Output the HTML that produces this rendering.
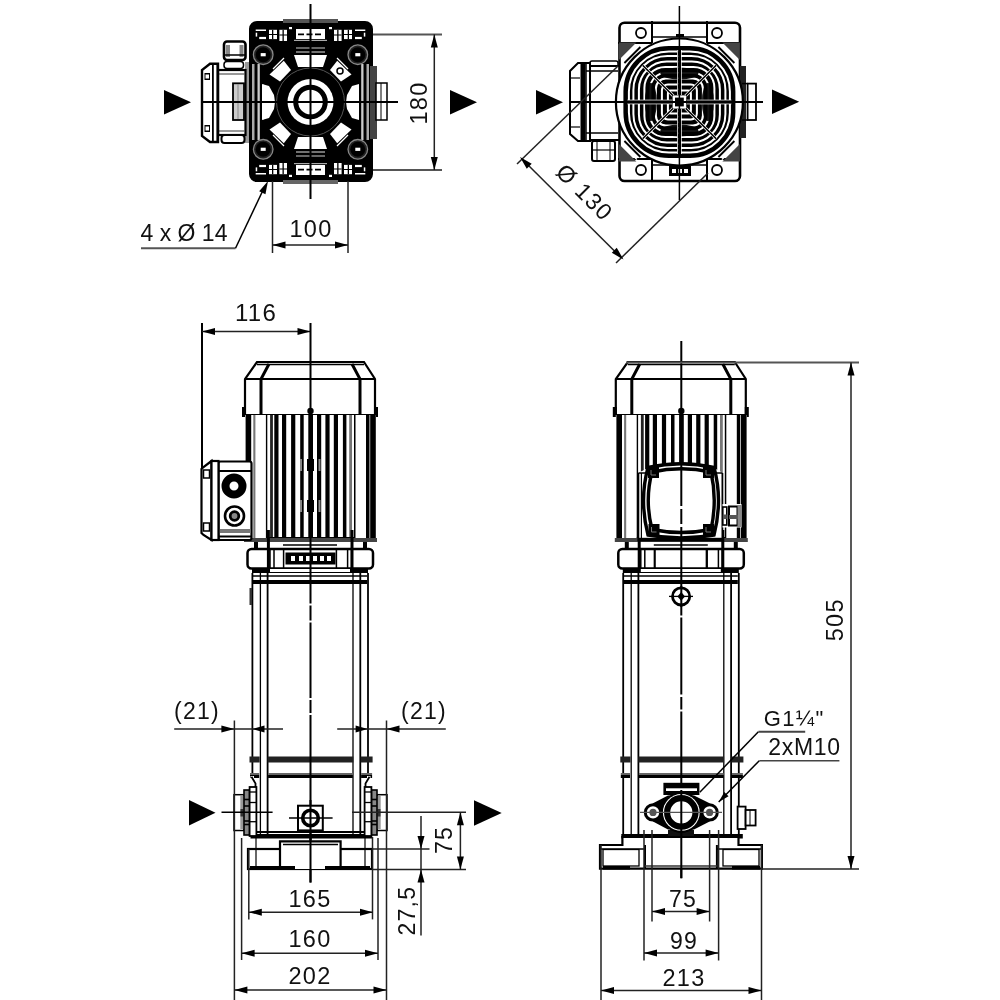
<!DOCTYPE html>
<html><head><meta charset="utf-8"><style>
html,body{margin:0;padding:0;background:#fff;width:1000px;height:1000px;overflow:hidden}
svg{display:block;will-change:transform}
text{font-family:"Liberation Sans",sans-serif;fill:#111;letter-spacing:1.3px}
</style></head><body>
<svg width="1000" height="1000" viewBox="0 0 1000 1000">
<rect width="1000" height="1000" fill="#fff"/>
<rect x="245" y="62" width="7" height="81" fill="#999"/>
<rect x="224" y="41.5" width="21.5" height="18.5" rx="3" fill="#fff" stroke="#000" stroke-width="2.6" />
<rect x="226" y="45" width="4" height="12" fill="#888"/>
<rect x="239.5" y="45" width="4" height="12" fill="#888"/>
<line x1="224" y1="55" x2="245.5" y2="55" stroke="#000" stroke-width="1.5" />
<rect x="224" y="61.5" width="19.5" height="7" rx="3" fill="#fff" stroke="#000" stroke-width="1.5" />
<rect x="218" y="70" width="27.5" height="65" rx="0" fill="#fff" stroke="#000" stroke-width="2.2" />
<line x1="218" y1="74" x2="245" y2="74" stroke="#555" stroke-width="1.2" />
<line x1="218" y1="131" x2="245" y2="131" stroke="#555" stroke-width="1.2" />
<rect x="233" y="83.3" width="11" height="36.7" fill="#ccc"/>
<rect x="233" y="83.3" width="11" height="36.7" rx="0" fill="none" stroke="#000" stroke-width="1.8" />
<line x1="238" y1="84" x2="238" y2="119" stroke="#888" stroke-width="1" />
<rect x="221.5" y="135" width="23" height="8" rx="3" fill="#fff" stroke="#000" stroke-width="2" />
<path d="M218,63.8 L210,63.8 L202,70 L202,136 L210,142 L218,142 Z" fill="#fff" stroke="#000" stroke-width="2.4" />
<rect x="212" y="63.8" width="1.8" height="78.2" fill="#000"/>
<rect x="216.5" y="63.8" width="2" height="78.2" fill="#000"/>
<rect x="204.5" y="73" width="5.5" height="7" fill="#000"/>
<rect x="205.5" y="74.5" width="3.5" height="4" fill="#fff"/>
<rect x="204.5" y="125" width="5.5" height="7" fill="#000"/>
<rect x="205.5" y="126.5" width="3.5" height="4" fill="#fff"/>
<rect x="250" y="22" width="122" height="159" rx="7" fill="#000" stroke="#000" stroke-width="2" />
<rect x="283" y="19" width="55" height="4" fill="#555"/>
<rect x="283" y="180" width="55" height="4" fill="#666"/>
<rect x="370" y="66" width="7" height="73" fill="#444"/>
<rect x="376" y="83" width="11" height="37" rx="0" fill="#fff" stroke="#000" stroke-width="1.5" />
<line x1="381" y1="83" x2="381" y2="120" stroke="#000" stroke-width="1" />
<rect x="252" y="64" width="2.5" height="76" fill="#aaa"/>
<rect x="366.5" y="64" width="2.5" height="76" fill="#aaa"/>
<rect x="257.5" y="64" width="2.3" height="76" fill="#ccc"/>
<rect x="361.2" y="64" width="2.3" height="76" fill="#ccc"/>
<polygon points="294,55 327,55 323,67 298,67" fill="#fff" stroke="none" stroke-width="1"/>
<polygon points="269.5,74.5 283.8,60.8 291,70 280,81.5" fill="#fff" stroke="none" stroke-width="1"/>
<polygon points="351.5,74.5 337.2,60.8 330,70 341,81.5" fill="#fff" stroke="none" stroke-width="1"/>
<rect x="255.7" y="29.5" width="10.3" height="1.5" fill="#fff"/>
<rect x="355" y="29.5" width="10.3" height="1.5" fill="#fff"/>
<rect x="255.7" y="32.7" width="1.5" height="3.9" fill="#fff"/>
<rect x="363.8" y="32.7" width="1.5" height="3.9" fill="#fff"/>
<rect x="259.2" y="36.9" width="6.8" height="2.2" fill="#fff"/>
<rect x="355" y="36.9" width="6.8" height="2.2" fill="#fff"/>
<rect x="269" y="29.8" width="8" height="9.3" fill="#fff"/>
<rect x="344" y="29.8" width="8" height="9.3" fill="#fff"/>
<rect x="272" y="29.8" width="1.3" height="9.3" fill="#000"/>
<rect x="347.7" y="29.8" width="1.3" height="9.3" fill="#000"/>
<rect x="269" y="34" width="8" height="1" fill="#000"/>
<rect x="344" y="34" width="8" height="1" fill="#000"/>
<rect x="279.4" y="29.8" width="7.6" height="11.2" fill="#fff"/>
<rect x="334" y="29.8" width="7.6" height="11.2" fill="#fff"/>
<rect x="282.5" y="29.8" width="1.3" height="11.2" fill="#000"/>
<rect x="337.2" y="29.8" width="1.3" height="11.2" fill="#000"/>
<rect x="279.4" y="34.5" width="7.6" height="1" fill="#000"/>
<rect x="334" y="34.5" width="7.6" height="1" fill="#000"/>
<rect x="289" y="27" width="3" height="2.2" fill="#fff"/>
<rect x="329" y="27" width="3" height="2.2" fill="#fff"/>
<rect x="296" y="29" width="29" height="10" fill="#fff"/>
<line x1="298" y1="34.3" x2="323" y2="34.3" stroke="#000" stroke-width="1.8" stroke-dasharray="6,2.5"/>
<rect x="294" y="39.8" width="33" height="1.2" fill="#aaa"/>
<line x1="296" y1="48" x2="325" y2="48" stroke="#888" stroke-width="1.5" />
<line x1="296" y1="52" x2="325" y2="52" stroke="#999" stroke-width="1.5" />
<circle cx="263.2" cy="54.7" r="9.8" fill="#222" stroke="#888" stroke-width="1.3"/>
<circle cx="263.2" cy="54.7" r="7.5" fill="#000" stroke="none" stroke-width="0"/>
<rect x="260.7" y="53.1" width="5" height="3.2" fill="#fff"/>
<circle cx="357.8" cy="54.7" r="9.8" fill="#222" stroke="#888" stroke-width="1.3"/>
<circle cx="357.8" cy="54.7" r="7.5" fill="#000" stroke="none" stroke-width="0"/>
<rect x="355.3" y="53.1" width="5" height="3.2" fill="#fff"/>
<line x1="273" y1="69" x2="284" y2="58" stroke="#fff" stroke-width="1.2" />
<line x1="348" y1="69" x2="337" y2="58" stroke="#fff" stroke-width="1.2" />
<line x1="283" y1="83.5" x2="293" y2="74.5" stroke="#777" stroke-width="1.2" />
<line x1="338" y1="83.5" x2="328" y2="74.5" stroke="#777" stroke-width="1.2" />
<polygon points="294,149 327,149 323,137 298,137" fill="#fff" stroke="none" stroke-width="1"/>
<polygon points="269.5,129.5 283.8,143.2 291,134 280,122.5" fill="#fff" stroke="none" stroke-width="1"/>
<polygon points="351.5,129.5 337.2,143.2 330,134 341,122.5" fill="#fff" stroke="none" stroke-width="1"/>
<rect x="255.7" y="173" width="10.3" height="1.5" fill="#fff"/>
<rect x="355" y="173" width="10.3" height="1.5" fill="#fff"/>
<rect x="255.7" y="167.4" width="1.5" height="3.9" fill="#fff"/>
<rect x="363.8" y="167.4" width="1.5" height="3.9" fill="#fff"/>
<rect x="259.2" y="164.9" width="6.8" height="2.2" fill="#fff"/>
<rect x="355" y="164.9" width="6.8" height="2.2" fill="#fff"/>
<rect x="269" y="164.9" width="8" height="9.3" fill="#fff"/>
<rect x="344" y="164.9" width="8" height="9.3" fill="#fff"/>
<rect x="272" y="164.9" width="1.3" height="9.3" fill="#000"/>
<rect x="347.7" y="164.9" width="1.3" height="9.3" fill="#000"/>
<rect x="269" y="169" width="8" height="1" fill="#000"/>
<rect x="344" y="169" width="8" height="1" fill="#000"/>
<rect x="279.4" y="163" width="7.6" height="11.2" fill="#fff"/>
<rect x="334" y="163" width="7.6" height="11.2" fill="#fff"/>
<rect x="282.5" y="163" width="1.3" height="11.2" fill="#000"/>
<rect x="337.2" y="163" width="1.3" height="11.2" fill="#000"/>
<rect x="279.4" y="168.5" width="7.6" height="1" fill="#000"/>
<rect x="334" y="168.5" width="7.6" height="1" fill="#000"/>
<rect x="289" y="174.8" width="3" height="2.2" fill="#fff"/>
<rect x="329" y="174.8" width="3" height="2.2" fill="#fff"/>
<rect x="296" y="165" width="29" height="10" fill="#fff"/>
<line x1="298" y1="169.7" x2="323" y2="169.7" stroke="#000" stroke-width="1.8" stroke-dasharray="6,2.5"/>
<rect x="294" y="163" width="33" height="1.2" fill="#aaa"/>
<line x1="296" y1="156" x2="325" y2="156" stroke="#888" stroke-width="1.5" />
<line x1="296" y1="152" x2="325" y2="152" stroke="#999" stroke-width="1.5" />
<circle cx="263.2" cy="149.3" r="9.8" fill="#222" stroke="#888" stroke-width="1.3"/>
<circle cx="263.2" cy="149.3" r="7.5" fill="#000" stroke="none" stroke-width="0"/>
<rect x="260.7" y="147.7" width="5" height="3.2" fill="#fff"/>
<circle cx="357.8" cy="149.3" r="9.8" fill="#222" stroke="#888" stroke-width="1.3"/>
<circle cx="357.8" cy="149.3" r="7.5" fill="#000" stroke="none" stroke-width="0"/>
<rect x="355.3" y="147.7" width="5" height="3.2" fill="#fff"/>
<line x1="273" y1="135" x2="284" y2="146" stroke="#fff" stroke-width="1.2" />
<line x1="348" y1="135" x2="337" y2="146" stroke="#fff" stroke-width="1.2" />
<line x1="283" y1="120.5" x2="293" y2="129.5" stroke="#777" stroke-width="1.2" />
<line x1="338" y1="120.5" x2="328" y2="129.5" stroke="#777" stroke-width="1.2" />
<path d="M263,84 Q276,102 263,120 Z" fill="#fff" stroke="none" stroke-width="0" />
<polygon points="262,84 269,86 274,95 275,102 274,109 269,118 262,120" fill="#fff" stroke="none" stroke-width="1"/>
<polygon points="359,84 352,86 347,95 346,102 347,109 352,118 359,120" fill="#fff" stroke="none" stroke-width="1"/>
<circle cx="340" cy="71" r="3" fill="none" stroke="#000" stroke-width="1.5"/>
<circle cx="310.5" cy="102" r="34" fill="#000" stroke="#555" stroke-width="1"/>
<circle cx="310.5" cy="102" r="23" fill="#fff" stroke="none" stroke-width="0"/>
<circle cx="310.5" cy="102" r="14.8" fill="none" stroke="#000" stroke-width="5"/>
<line x1="310.5" y1="4" x2="310.5" y2="199" stroke="#000" stroke-width="2" />
<line x1="201.5" y1="102" x2="398" y2="102" stroke="#000" stroke-width="2" />
<polygon points="164,90 191,102.25 164,114.5" fill="#000" stroke="none" stroke-width="1"/>
<polygon points="450,90 477,102.25 450,114.5" fill="#000" stroke="none" stroke-width="1"/>
<line x1="373" y1="34.4" x2="442" y2="34.4" stroke="#555" stroke-width="2" />
<line x1="373" y1="170" x2="442" y2="170" stroke="#555" stroke-width="2" />
<line x1="434.3" y1="34.4" x2="434.3" y2="170" stroke="#222" stroke-width="1.5" />
<polygon points="434.3,34.4 437.8,47.4 430.8,47.4" fill="#000" stroke="none" stroke-width="1"/>
<polygon points="434.3,170 430.8,157 437.8,157" fill="#000" stroke="none" stroke-width="1"/>
<text x="427" y="103" font-size="23.5" text-anchor="middle" transform="rotate(-90 427 103)" >180</text>
<line x1="272.5" y1="181" x2="272.5" y2="253" stroke="#222" stroke-width="1.5" />
<line x1="348" y1="181" x2="348" y2="253" stroke="#222" stroke-width="1.5" />
<line x1="272.5" y1="245" x2="348" y2="245" stroke="#222" stroke-width="1.5" />
<polygon points="272.5,245 285.5,241.5 285.5,248.5" fill="#000" stroke="none" stroke-width="1"/>
<polygon points="348,245 335,248.5 335,241.5" fill="#000" stroke="none" stroke-width="1"/>
<text x="311" y="236.5" font-size="23.5" text-anchor="middle" >100</text>
<line x1="141" y1="248.3" x2="235.5" y2="248.3" stroke="#555" stroke-width="2" />
<line x1="235.5" y1="248.3" x2="265" y2="186" stroke="#000" stroke-width="1.5" />
<polygon points="268,181 265.45,194.22 259.16,191.15" fill="#000" stroke="none" stroke-width="1"/>
<text x="140.5" y="241" font-size="23" text-anchor="start" style="letter-spacing:0px">4 x Ø 14</text>
<rect x="590" y="40" width="0" height="0" rx="0" fill="none" stroke="#000" stroke-width="0" />
<rect x="592" y="141" width="23" height="20" rx="2" fill="#fff" stroke="#000" stroke-width="2" />
<line x1="597" y1="141" x2="597" y2="161" stroke="#000" stroke-width="1" />
<line x1="610" y1="141" x2="610" y2="161" stroke="#000" stroke-width="1" />
<line x1="592" y1="150" x2="615" y2="150" stroke="#000" stroke-width="1.2" />
<rect x="590" y="61" width="28" height="8" rx="2" fill="#fff" stroke="#000" stroke-width="1.5" />
<rect x="586" y="66" width="34" height="74" rx="0" fill="#fff" stroke="#000" stroke-width="2" />
<path d="M590,63 L578,63 L570,71 L570,134 L578,141 L590,141 Z" fill="#fff" stroke="#000" stroke-width="2" />
<rect x="580.5" y="62" width="5" height="80" fill="#000"/>
<line x1="586" y1="62" x2="586" y2="142" stroke="#000" stroke-width="1.5" />
<line x1="571" y1="78" x2="580" y2="78" stroke="#000" stroke-width="1.2" />
<line x1="571" y1="127" x2="580" y2="127" stroke="#000" stroke-width="1.2" />
<line x1="586" y1="133" x2="618" y2="133" stroke="#000" stroke-width="1.5" />
<line x1="586" y1="71" x2="618" y2="71" stroke="#000" stroke-width="1.5" />
<rect x="619.5" y="22.8" width="120.5" height="158.2" rx="5" fill="#fff" stroke="#000" stroke-width="2.6" />
<line x1="618" y1="43" x2="652" y2="43" stroke="#000" stroke-width="2" />
<line x1="618" y1="159" x2="652" y2="159" stroke="#000" stroke-width="2" />
<line x1="707" y1="43" x2="740" y2="43" stroke="#000" stroke-width="2" />
<line x1="707" y1="159" x2="740" y2="159" stroke="#000" stroke-width="2" />
<line x1="652" y1="21" x2="652" y2="43" stroke="#000" stroke-width="2" />
<line x1="707" y1="21" x2="707" y2="43" stroke="#000" stroke-width="2" />
<line x1="652" y1="159" x2="652" y2="181" stroke="#000" stroke-width="2" />
<line x1="707" y1="159" x2="707" y2="181" stroke="#000" stroke-width="2" />
<line x1="652" y1="37" x2="707" y2="37" stroke="#000" stroke-width="1.5" />
<line x1="652" y1="165" x2="707" y2="165" stroke="#000" stroke-width="1.5" />
<circle cx="641" cy="33" r="5" fill="#fff" stroke="#000" stroke-width="1.8"/>
<circle cx="717" cy="33" r="5" fill="#fff" stroke="#000" stroke-width="1.8"/>
<circle cx="641" cy="170" r="5" fill="#fff" stroke="#000" stroke-width="1.8"/>
<circle cx="717" cy="170" r="5" fill="#fff" stroke="#000" stroke-width="1.8"/>
<rect x="669" y="166" width="22" height="10" fill="#000"/>
<rect x="672" y="169" width="4" height="4" fill="#fff"/>
<rect x="678" y="169" width="4" height="4" fill="#fff"/>
<rect x="684" y="169" width="4" height="4" fill="#fff"/>
<rect x="676" y="34" width="8" height="3" fill="#000"/>
<rect x="740" y="66" width="6" height="72" fill="#222"/>
<rect x="747.6" y="83.6" width="8.4" height="36.4" rx="0" fill="#fff" stroke="#000" stroke-width="1.8" />
<line x1="742" y1="83.6" x2="747.6" y2="83.6" stroke="#000" stroke-width="1.5" />
<line x1="742" y1="120" x2="747.6" y2="120" stroke="#000" stroke-width="1.5" />
<circle cx="679.4" cy="102" r="63.5" fill="#fff" stroke="#000" stroke-width="2.2"/>
<polygon points="739.9,161.5 722.4,161.5 739.9,144" fill="#444" stroke="none" stroke-width="1"/>
<line x1="736.9" y1="144.5" x2="721.9" y2="159.5" stroke="#fff" stroke-width="1.3" />
<line x1="734.4" y1="141" x2="718.4" y2="157" stroke="#000" stroke-width="1.8" />
<polygon points="739.9,42.5 722.4,42.5 739.9,60" fill="#444" stroke="none" stroke-width="1"/>
<line x1="736.9" y1="59.5" x2="721.9" y2="44.5" stroke="#fff" stroke-width="1.3" />
<line x1="734.4" y1="63" x2="718.4" y2="47" stroke="#000" stroke-width="1.8" />
<polygon points="618.9,161.5 636.4,161.5 618.9,144" fill="#444" stroke="none" stroke-width="1"/>
<line x1="621.9" y1="144.5" x2="636.9" y2="159.5" stroke="#fff" stroke-width="1.3" />
<line x1="624.4" y1="141" x2="640.4" y2="157" stroke="#000" stroke-width="1.8" />
<polygon points="618.9,42.5 636.4,42.5 618.9,60" fill="#444" stroke="none" stroke-width="1"/>
<line x1="621.9" y1="59.5" x2="636.9" y2="44.5" stroke="#fff" stroke-width="1.3" />
<line x1="624.4" y1="63" x2="640.4" y2="47" stroke="#000" stroke-width="1.8" />
<g transform="translate(679.4,102)">
<rect x="-54.5" y="-54.5" width="109" height="109" rx="44" fill="#000"/>
<rect x="-6" y="-6" width="12" height="12" rx="1" fill="none" stroke="#fff" stroke-width="2.0"/>
<rect x="-11.5" y="-11.5" width="23.0" height="23.0" rx="3" fill="none" stroke="#fff" stroke-width="2.0"/>
<rect x="-17.5" y="-17.5" width="35.0" height="35.0" rx="6" fill="none" stroke="#fff" stroke-width="2.0"/>
<rect x="-23.5" y="-23.5" width="47.0" height="47.0" rx="10" fill="none" stroke="#fff" stroke-width="2.0"/>
<rect x="-29" y="-29" width="58" height="58" rx="15" fill="none" stroke="#fff" stroke-width="2.0"/>
<rect x="-35" y="-35" width="70" height="70" rx="21" fill="none" stroke="#fff" stroke-width="2.0"/>
<rect x="-40.5" y="-40.5" width="81.0" height="81.0" rx="28" fill="none" stroke="#fff" stroke-width="2.0"/>
<rect x="-46" y="-46" width="92" height="92" rx="34" fill="none" stroke="#fff" stroke-width="2.0"/>
<rect x="-50.5" y="-50.5" width="101.0" height="101.0" rx="40" fill="none" stroke="#fff" stroke-width="2.0"/>
<g transform="rotate(0)"><ellipse cx="0" cy="-28.5" rx="19" ry="6" fill="#000" opacity="0.92"/></g>
<g transform="rotate(90)"><ellipse cx="0" cy="-28.5" rx="19" ry="6" fill="#000" opacity="0.92"/></g>
<g transform="rotate(180)"><ellipse cx="0" cy="-28.5" rx="19" ry="6" fill="#000" opacity="0.92"/></g>
<g transform="rotate(270)"><ellipse cx="0" cy="-28.5" rx="19" ry="6" fill="#000" opacity="0.92"/></g>
<g transform="rotate(0)"><rect x="-52" y="-2.3" width="104" height="4.6" fill="#fff"/><rect x="-55" y="-1.6" width="110" height="3.2" fill="#000"/><line x1="-52" y1="0" x2="52" y2="0" stroke="#fff" stroke-width="1.2" stroke-dasharray="1.5,4"/></g>
<g transform="rotate(90)"><rect x="-52" y="-2.3" width="104" height="4.6" fill="#fff"/><rect x="-55" y="-1.6" width="110" height="3.2" fill="#000"/><line x1="-52" y1="0" x2="52" y2="0" stroke="#fff" stroke-width="1.2" stroke-dasharray="1.5,4"/></g>
<g transform="rotate(45)"><rect x="-52" y="-1.5" width="104" height="3" fill="#fff"/><rect x="-52" y="-0.8" width="104" height="1.6" fill="#000"/></g>
<g transform="rotate(135)"><rect x="-52" y="-1.5" width="104" height="3" fill="#fff"/><rect x="-52" y="-0.8" width="104" height="1.6" fill="#000"/></g>
<rect x="-54.5" y="-54.5" width="109" height="109" rx="44" fill="none" stroke="#000" stroke-width="3"/>
<rect x="-7" y="-7" width="14" height="14" fill="#000"/><rect x="-5.5" y="-5.5" width="11" height="11" fill="none" stroke="#fff" stroke-width="2.2"/><rect x="-2.5" y="-2.5" width="5" height="5" fill="#000"/>
</g>
<line x1="679.4" y1="6" x2="679.4" y2="200" stroke="#000" stroke-width="1.5" />
<line x1="570" y1="102" x2="763" y2="102" stroke="#000" stroke-width="2" />
<polygon points="536,90 563,102.25 536,114.5" fill="#000" stroke="none" stroke-width="1"/>
<polygon points="772,89.6 799.2,101.8 772,114" fill="#000" stroke="none" stroke-width="1"/>
<line x1="517" y1="164" x2="618" y2="66" stroke="#222" stroke-width="1.5" />
<line x1="616" y1="263" x2="708" y2="173" stroke="#222" stroke-width="1.5" />
<line x1="523" y1="160" x2="621" y2="257.5" stroke="#222" stroke-width="1.5" />
<polygon points="520,157 531.68,163.69 526.75,168.65" fill="#000" stroke="none" stroke-width="1"/>
<polygon points="623.5,259.5 611.82,252.81 616.75,247.85" fill="#000" stroke="none" stroke-width="1"/>
<text x="579" y="198" font-size="23" text-anchor="middle" transform="rotate(44.85 579 198)" >Ø 130</text>
<g transform="translate(0,0)">
<path d="M257,362 L364,362 L375,379 L375,415 L245,415 L245,379 Z" fill="#fff" stroke="#000" stroke-width="2.2" />
<line x1="257" y1="364.5" x2="364" y2="364.5" stroke="#000" stroke-width="1.5" />
<line x1="245" y1="379" x2="375" y2="379" stroke="#000" stroke-width="2.2" />
<path d="M269,364 L261,379 L261,415" fill="none" stroke="#000" stroke-width="3" />
<path d="M352,364 L360,379 L360,415" fill="none" stroke="#000" stroke-width="3" />
<rect x="242" y="407" width="4" height="10" fill="#000"/>
<rect x="374" y="407" width="4" height="10" fill="#000"/>
<circle cx="310.5" cy="411" r="3.2" fill="#000" stroke="none" stroke-width="0"/>
<line x1="244" y1="415.5" x2="376" y2="415.5" stroke="#000" stroke-width="2.5" />
<rect x="245" y="415" width="131" height="125" rx="0" fill="#fff" stroke="none" stroke-width="0" />
<rect x="245.6" y="415" width="5.6" height="125" fill="#000"/>
<rect x="253.3" y="415" width="2.1" height="125" fill="#777"/>
<rect x="265.9" y="415" width="1.4" height="125" fill="#000"/>
<rect x="270.1" y="415" width="2.8" height="125" fill="#222"/>
<rect x="274.3" y="415" width="4.2" height="125" fill="#000"/>
<rect x="282" y="415" width="4.2" height="125" fill="#000"/>
<rect x="291.1" y="415" width="4.2" height="125" fill="#000"/>
<rect x="300.2" y="415" width="3.5" height="125" fill="#000"/>
<rect x="308.3" y="415" width="4.7" height="125" fill="#000"/>
<rect x="317" y="415" width="4.2" height="125" fill="#000"/>
<rect x="325.4" y="415" width="4.2" height="125" fill="#000"/>
<rect x="333.8" y="415" width="4.2" height="125" fill="#000"/>
<rect x="342.9" y="415" width="3.5" height="125" fill="#000"/>
<rect x="349.2" y="415" width="2.8" height="125" fill="#777"/>
<rect x="354" y="415" width="1.5" height="125" fill="#000"/>
<rect x="366" y="415" width="3.5" height="125" fill="#000"/>
<rect x="370.2" y="415" width="5.6" height="125" fill="#000"/>
<line x1="266" y1="538" x2="355" y2="538" stroke="#000" stroke-width="2" />
<rect x="244" y="538" width="133" height="4" fill="#444"/>
</g>
<g transform="translate(0,0)">
<rect x="254" y="542" width="4" height="7" fill="#000"/>
<rect x="363" y="542" width="4" height="7" fill="#000"/>
<line x1="283" y1="545" x2="337" y2="545" stroke="#000" stroke-width="1.5" />
<rect x="247.5" y="549" width="125.5" height="19.5" rx="4" fill="#fff" stroke="#000" stroke-width="2.5" />
<line x1="270" y1="549" x2="270" y2="568.5" stroke="#000" stroke-width="1.5" />
<line x1="274" y1="549" x2="274" y2="568.5" stroke="#000" stroke-width="1.5" />
<line x1="283.6" y1="549" x2="283.6" y2="568.5" stroke="#000" stroke-width="1.5" />
<line x1="336.4" y1="549" x2="336.4" y2="568.5" stroke="#000" stroke-width="1.5" />
<line x1="347.6" y1="549" x2="347.6" y2="568.5" stroke="#000" stroke-width="1.5" />
<line x1="351.6" y1="549" x2="351.6" y2="568.5" stroke="#000" stroke-width="1.5" />
<line x1="268.4" y1="530" x2="268.4" y2="568" stroke="#000" stroke-width="3" />
<line x1="352" y1="530" x2="352" y2="568" stroke="#000" stroke-width="3" />
<rect x="252" y="568" width="116" height="5" fill="#000"/>
<rect x="270" y="569" width="80" height="3" fill="#fff"/>
<line x1="253" y1="576" x2="367" y2="576" stroke="#000" stroke-width="1.5" />
<rect x="253" y="580" width="114" height="4" fill="#000"/>
<line x1="252.4" y1="573" x2="252.4" y2="836" stroke="#000" stroke-width="1.8" />
<line x1="368" y1="573" x2="368" y2="836" stroke="#000" stroke-width="1.8" />
<line x1="260.4" y1="573" x2="260.4" y2="836" stroke="#000" stroke-width="1.3" />
<line x1="267.6" y1="573" x2="267.6" y2="836" stroke="#000" stroke-width="1.8" />
<line x1="353" y1="573" x2="353" y2="836" stroke="#000" stroke-width="1.3" />
<line x1="360.3" y1="573" x2="360.3" y2="836" stroke="#000" stroke-width="1.8" />
<rect x="249.5" y="756.5" width="10.2" height="6" fill="#222"/>
<rect x="250" y="773" width="9.2" height="2" fill="#666"/>
<rect x="250" y="775" width="9.2" height="3" fill="#000"/>
<rect x="267.6" y="756.5" width="85.7" height="6" fill="#222"/>
<rect x="268.1" y="773" width="84.7" height="2" fill="#666"/>
<rect x="268.1" y="775" width="84.7" height="3" fill="#000"/>
<rect x="360.6" y="756.5" width="12" height="6" fill="#222"/>
<rect x="361.1" y="773" width="11" height="2" fill="#666"/>
<rect x="361.1" y="775" width="11" height="3" fill="#000"/>
<rect x="250.5" y="834" width="121.5" height="4.5" fill="#000"/>
</g>
<rect x="286" y="553" width="49" height="11" rx="0" fill="#000" stroke="#000" stroke-width="1" />
<rect x="291" y="556" width="4" height="5" fill="#fff"/>
<rect x="299" y="556" width="4" height="5" fill="#fff"/>
<rect x="306" y="556" width="4" height="5" fill="#fff"/>
<rect x="313" y="556" width="4" height="5" fill="#fff"/>
<rect x="320" y="556" width="4" height="5" fill="#fff"/>
<rect x="327" y="556" width="4" height="5" fill="#fff"/>
<rect x="218.5" y="461.5" width="33" height="78.5" rx="2" fill="#fff" stroke="#000" stroke-width="2.2" />
<line x1="218.5" y1="471" x2="251" y2="471" stroke="#000" stroke-width="2" />
<rect x="219.5" y="529" width="31" height="4" fill="#777"/>
<line x1="218.5" y1="536.5" x2="251" y2="536.5" stroke="#000" stroke-width="2" />
<path d="M211.5,461 L203.5,467 L201.5,469 L201.5,533 L203.5,535 L211.5,540 Z" fill="#fff" stroke="#000" stroke-width="2.2" />
<rect x="211.5" y="461" width="7" height="79" rx="0" fill="#fff" stroke="#000" stroke-width="2.2" />
<rect x="203.5" y="470" width="6" height="8" rx="0" fill="#fff" stroke="#000" stroke-width="1.5" />
<rect x="203.5" y="523" width="6" height="8" rx="0" fill="#fff" stroke="#000" stroke-width="1.5" />
<circle cx="234" cy="486" r="8.5" fill="none" stroke="#000" stroke-width="8"/>
<circle cx="234.5" cy="516" r="9.5" fill="none" stroke="#000" stroke-width="2.6"/>
<circle cx="234.5" cy="516" r="4.3" fill="#888" stroke="#000" stroke-width="2.8"/>
<line x1="202" y1="323" x2="202" y2="468" stroke="#000" stroke-width="2" />
<line x1="202" y1="331.6" x2="310.5" y2="331.6" stroke="#222" stroke-width="1.5" />
<polygon points="202,331.6 215,328.1 215,335.1" fill="#000" stroke="none" stroke-width="1"/>
<polygon points="310.5,331.6 297.5,335.1 297.5,328.1" fill="#000" stroke="none" stroke-width="1"/>
<text x="256" y="321" font-size="24" text-anchor="middle" >116</text>
<line x1="310.5" y1="323" x2="310.5" y2="882.5" stroke="#000" stroke-width="2" />
<rect x="307" y="459" width="7" height="12" fill="#000"/>
<rect x="307" y="500" width="7" height="12" fill="#000"/>
<rect x="300" y="459" width="2" height="12" fill="#888"/>
<rect x="318.5" y="459" width="2" height="12" fill="#888"/>
<rect x="300" y="500" width="2" height="12" fill="#888"/>
<rect x="318.5" y="500" width="2" height="12" fill="#888"/>
<rect x="308.5" y="603.5" width="4" height="2" fill="#fff"/>
<rect x="308.5" y="620.5" width="4" height="2" fill="#fff"/>
<rect x="308.5" y="698" width="4" height="2" fill="#fff"/>
<rect x="308.5" y="713" width="4" height="2" fill="#fff"/>
<rect x="298" y="805.7" width="24.8" height="24.7" rx="0" fill="#fff" stroke="#000" stroke-width="2" />
<line x1="253" y1="832" x2="368" y2="832" stroke="#000" stroke-width="1.8" />
<circle cx="310.5" cy="818" r="7.8" fill="#fff" stroke="#000" stroke-width="3.6"/>
<line x1="289" y1="818" x2="332.6" y2="818" stroke="#000" stroke-width="1.5" />
<line x1="310.5" y1="800" x2="310.5" y2="840" stroke="#000" stroke-width="2" />
<rect x="250.5" y="776" width="3.5" height="13" fill="#fff"/>
<path d="M251.5,776.8 L255.5,783.5 L255.5,787" fill="none" stroke="#000" stroke-width="1.8" />
<rect x="234" y="794.7" width="10" height="35.8" rx="0" fill="#fff" stroke="#000" stroke-width="1.5" />
<rect x="240.3" y="796" width="3.7" height="33" fill="#999"/>
<rect x="240.5" y="809" width="3" height="7.5" fill="#333"/>
<rect x="244" y="790" width="5.6" height="45" rx="0" fill="#888" stroke="#000" stroke-width="1.6" />
<rect x="244" y="798.7" width="5.6" height="1.6" fill="#000"/>
<rect x="244" y="805.2" width="5.6" height="1.6" fill="#000"/>
<rect x="244" y="820.2" width="5.6" height="1.6" fill="#000"/>
<rect x="244" y="823.7" width="5.6" height="1.6" fill="#000"/>
<rect x="249.6" y="787" width="6.8" height="49" rx="0" fill="#fff" stroke="#000" stroke-width="1.8" />
<line x1="249.6" y1="792" x2="256.4" y2="792" stroke="#000" stroke-width="1.3" />
<line x1="249.6" y1="802.5" x2="256.4" y2="802.5" stroke="#000" stroke-width="1.3" />
<line x1="249.6" y1="821.7" x2="256.4" y2="821.7" stroke="#000" stroke-width="1.3" />
<rect x="367" y="776" width="3.5" height="13" fill="#fff"/>
<path d="M369.5,776.8 L365.5,783.5 L365.5,787" fill="none" stroke="#000" stroke-width="1.8" />
<rect x="377" y="794.7" width="10" height="35.8" rx="0" fill="#fff" stroke="#000" stroke-width="1.5" />
<rect x="377" y="796" width="3.7" height="33" fill="#999"/>
<rect x="377.5" y="809" width="3" height="7.5" fill="#333"/>
<rect x="371.4" y="790" width="5.6" height="45" rx="0" fill="#888" stroke="#000" stroke-width="1.6" />
<rect x="371.4" y="798.7" width="5.6" height="1.6" fill="#000"/>
<rect x="371.4" y="805.2" width="5.6" height="1.6" fill="#000"/>
<rect x="371.4" y="820.2" width="5.6" height="1.6" fill="#000"/>
<rect x="371.4" y="823.7" width="5.6" height="1.6" fill="#000"/>
<rect x="364.6" y="787" width="6.8" height="49" rx="0" fill="#fff" stroke="#000" stroke-width="1.8" />
<line x1="364.6" y1="792" x2="371.4" y2="792" stroke="#000" stroke-width="1.3" />
<line x1="364.6" y1="802.5" x2="371.4" y2="802.5" stroke="#000" stroke-width="1.3" />
<line x1="364.6" y1="821.7" x2="371.4" y2="821.7" stroke="#000" stroke-width="1.3" />
<rect x="249.5" y="588" width="2.5" height="17" fill="#333"/>
<rect x="248" y="849" width="124" height="20" rx="0" fill="#fff" stroke="#000" stroke-width="2.2" />
<path d="M280,869 L280,841.4 L340.6,841.4 L340.6,869" fill="#fff" stroke="#000" stroke-width="2.2" />
<line x1="283" y1="844.5" x2="338" y2="844.5" stroke="#000" stroke-width="1.5" />
<rect x="250" y="866" width="45" height="3.5" fill="#000"/>
<rect x="325" y="866" width="45" height="3.5" fill="#000"/>
<line x1="256" y1="837" x2="256" y2="869" stroke="#000" stroke-width="1.2" />
<line x1="365" y1="837" x2="365" y2="869" stroke="#000" stroke-width="1.2" />
<line x1="310.5" y1="836" x2="310.5" y2="882.5" stroke="#000" stroke-width="2" />
<line x1="174.2" y1="729" x2="283" y2="729" stroke="#222" stroke-width="1.5" />
<polygon points="234.4,729 221.4,732.5 221.4,725.5" fill="#000" stroke="none" stroke-width="1"/>
<polygon points="252.5,729 264.5,725.5 264.5,732.5" fill="#000" stroke="none" stroke-width="1"/>
<line x1="234.4" y1="720.6" x2="234.4" y2="1000" stroke="#222" stroke-width="1.5" />
<line x1="337.2" y1="729" x2="445.8" y2="729" stroke="#222" stroke-width="1.5" />
<polygon points="367.6,729 355.6,732.5 355.6,725.5" fill="#000" stroke="none" stroke-width="1"/>
<polygon points="386.5,729 399.5,725.5 399.5,732.5" fill="#000" stroke="none" stroke-width="1"/>
<line x1="386.5" y1="720.6" x2="386.5" y2="1000" stroke="#222" stroke-width="1.5" />
<text x="197" y="719.4" font-size="23" text-anchor="middle" >(21)</text>
<text x="424" y="719.4" font-size="23" text-anchor="middle" >(21)</text>
<line x1="221.5" y1="812.3" x2="272.6" y2="812.3" stroke="#000" stroke-width="1.5" />
<line x1="352" y1="812.3" x2="466" y2="812.3" stroke="#222" stroke-width="1.5" />
<polygon points="189,800 215.5,812.8 189,825.6" fill="#000" stroke="none" stroke-width="1"/>
<polygon points="474,800.2 501.7,812.95 474,825.7" fill="#000" stroke="none" stroke-width="1"/>
<line x1="372" y1="849" x2="429.5" y2="849" stroke="#222" stroke-width="1.5" />
<line x1="372" y1="869.4" x2="466" y2="869.4" stroke="#222" stroke-width="1.5" />
<line x1="460.4" y1="812.3" x2="460.4" y2="869.4" stroke="#222" stroke-width="1.5" />
<polygon points="460.4,812.3 463.9,825.3 456.9,825.3" fill="#000" stroke="none" stroke-width="1"/>
<polygon points="460.4,869.4 456.9,856.4 463.9,856.4" fill="#000" stroke="none" stroke-width="1"/>
<line x1="421" y1="816" x2="421" y2="935.6" stroke="#222" stroke-width="1.5" />
<polygon points="421,849 417.5,836 424.5,836" fill="#000" stroke="none" stroke-width="1"/>
<polygon points="421,869.4 424.5,882.4 417.5,882.4" fill="#000" stroke="none" stroke-width="1"/>
<text x="452" y="840" font-size="23" text-anchor="middle" transform="rotate(-90 452 840)" >75</text>
<text x="415" y="910.6" font-size="23" text-anchor="middle" transform="rotate(-90 415 910.6)" >27,5</text>
<line x1="248.8" y1="849" x2="248.8" y2="919.4" stroke="#222" stroke-width="1.5" />
<line x1="372.5" y1="837" x2="372.5" y2="919.4" stroke="#222" stroke-width="1.5" />
<line x1="248.8" y1="912.2" x2="373" y2="912.2" stroke="#222" stroke-width="1.5" />
<polygon points="248.8,912.2 261.8,908.7 261.8,915.7" fill="#000" stroke="none" stroke-width="1"/>
<polygon points="373,912.2 360,915.7 360,908.7" fill="#000" stroke="none" stroke-width="1"/>
<text x="310" y="907.2" font-size="23.5" text-anchor="middle" >165</text>
<line x1="241.6" y1="838" x2="241.6" y2="960" stroke="#222" stroke-width="1.5" />
<line x1="378" y1="838" x2="378" y2="960" stroke="#222" stroke-width="1.5" />
<line x1="241.6" y1="953.2" x2="378" y2="953.2" stroke="#222" stroke-width="1.5" />
<polygon points="241.6,953.2 254.6,949.7 254.6,956.7" fill="#000" stroke="none" stroke-width="1"/>
<polygon points="378,953.2 365,956.7 365,949.7" fill="#000" stroke="none" stroke-width="1"/>
<text x="310" y="946.8" font-size="23.5" text-anchor="middle" >160</text>
<line x1="234.4" y1="990" x2="386.5" y2="990" stroke="#222" stroke-width="1.5" />
<polygon points="234.4,990 247.4,986.5 247.4,993.5" fill="#000" stroke="none" stroke-width="1"/>
<polygon points="386.5,990 373.5,993.5 373.5,986.5" fill="#000" stroke="none" stroke-width="1"/>
<text x="310" y="983.8" font-size="23.5" text-anchor="middle" >202</text>
<g transform="translate(370.8,0)">
<path d="M257,362 L364,362 L375,379 L375,415 L245,415 L245,379 Z" fill="#fff" stroke="#000" stroke-width="2.2" />
<line x1="257" y1="364.5" x2="364" y2="364.5" stroke="#000" stroke-width="1.5" />
<line x1="245" y1="379" x2="375" y2="379" stroke="#000" stroke-width="2.2" />
<path d="M269,364 L261,379 L261,415" fill="none" stroke="#000" stroke-width="3" />
<path d="M352,364 L360,379 L360,415" fill="none" stroke="#000" stroke-width="3" />
<rect x="242" y="407" width="4" height="10" fill="#000"/>
<rect x="374" y="407" width="4" height="10" fill="#000"/>
<circle cx="310.5" cy="411" r="3.2" fill="#000" stroke="none" stroke-width="0"/>
<line x1="244" y1="415.5" x2="376" y2="415.5" stroke="#000" stroke-width="2.5" />
<rect x="245" y="415" width="131" height="125" rx="0" fill="#fff" stroke="none" stroke-width="0" />
<rect x="245.6" y="415" width="5.6" height="125" fill="#000"/>
<rect x="253.3" y="415" width="2.1" height="125" fill="#777"/>
<rect x="265.9" y="415" width="1.4" height="125" fill="#000"/>
<rect x="270.1" y="415" width="2.8" height="125" fill="#222"/>
<rect x="274.3" y="415" width="4.2" height="125" fill="#000"/>
<rect x="282" y="415" width="4.2" height="125" fill="#000"/>
<rect x="291.1" y="415" width="4.2" height="125" fill="#000"/>
<rect x="300.2" y="415" width="3.5" height="125" fill="#000"/>
<rect x="308.3" y="415" width="4.7" height="125" fill="#000"/>
<rect x="317" y="415" width="4.2" height="125" fill="#000"/>
<rect x="325.4" y="415" width="4.2" height="125" fill="#000"/>
<rect x="333.8" y="415" width="4.2" height="125" fill="#000"/>
<rect x="342.9" y="415" width="3.5" height="125" fill="#000"/>
<rect x="349.2" y="415" width="2.8" height="125" fill="#777"/>
<rect x="354" y="415" width="1.5" height="125" fill="#000"/>
<rect x="366" y="415" width="3.5" height="125" fill="#000"/>
<rect x="370.2" y="415" width="5.6" height="125" fill="#000"/>
<line x1="266" y1="538" x2="355" y2="538" stroke="#000" stroke-width="2" />
<rect x="244" y="538" width="133" height="4" fill="#444"/>
</g>
<g transform="translate(370.8,0)">
<rect x="254" y="542" width="4" height="7" fill="#000"/>
<rect x="363" y="542" width="4" height="7" fill="#000"/>
<line x1="283" y1="545" x2="337" y2="545" stroke="#000" stroke-width="1.5" />
<rect x="247.5" y="549" width="125.5" height="19.5" rx="4" fill="#fff" stroke="#000" stroke-width="2.5" />
<line x1="270" y1="549" x2="270" y2="568.5" stroke="#000" stroke-width="1.5" />
<line x1="274" y1="549" x2="274" y2="568.5" stroke="#000" stroke-width="1.5" />
<line x1="283.6" y1="549" x2="283.6" y2="568.5" stroke="#000" stroke-width="1.5" />
<line x1="336.4" y1="549" x2="336.4" y2="568.5" stroke="#000" stroke-width="1.5" />
<line x1="347.6" y1="549" x2="347.6" y2="568.5" stroke="#000" stroke-width="1.5" />
<line x1="351.6" y1="549" x2="351.6" y2="568.5" stroke="#000" stroke-width="1.5" />
<line x1="268.4" y1="530" x2="268.4" y2="568" stroke="#000" stroke-width="3" />
<line x1="352" y1="530" x2="352" y2="568" stroke="#000" stroke-width="3" />
<rect x="252" y="568" width="116" height="5" fill="#000"/>
<rect x="270" y="569" width="80" height="3" fill="#fff"/>
<line x1="253" y1="576" x2="367" y2="576" stroke="#000" stroke-width="1.5" />
<rect x="253" y="580" width="114" height="4" fill="#000"/>
<line x1="252.4" y1="573" x2="252.4" y2="836" stroke="#000" stroke-width="1.8" />
<line x1="368" y1="573" x2="368" y2="836" stroke="#000" stroke-width="1.8" />
<line x1="260.4" y1="573" x2="260.4" y2="836" stroke="#000" stroke-width="1.3" />
<line x1="267.6" y1="573" x2="267.6" y2="836" stroke="#000" stroke-width="1.8" />
<line x1="353" y1="573" x2="353" y2="836" stroke="#000" stroke-width="1.3" />
<line x1="360.3" y1="573" x2="360.3" y2="836" stroke="#000" stroke-width="1.8" />
<rect x="249.5" y="756.5" width="10.2" height="6" fill="#222"/>
<rect x="250" y="773" width="9.2" height="2" fill="#666"/>
<rect x="250" y="775" width="9.2" height="3" fill="#000"/>
<rect x="267.6" y="756.5" width="85.7" height="6" fill="#222"/>
<rect x="268.1" y="773" width="84.7" height="2" fill="#666"/>
<rect x="268.1" y="775" width="84.7" height="3" fill="#000"/>
<rect x="360.6" y="756.5" width="12" height="6" fill="#222"/>
<rect x="361.1" y="773" width="11" height="2" fill="#666"/>
<rect x="361.1" y="775" width="11" height="3" fill="#000"/>
<rect x="250.5" y="834" width="121.5" height="4.5" fill="#000"/>
</g>
<path d="M638,541 L638,473 L648,468 Q681,459 714,468 L723,473 L723,541 Z" fill="#fff" stroke="none" stroke-width="0" />
<line x1="638.4" y1="473" x2="638.4" y2="541" stroke="#000" stroke-width="1.8" />
<line x1="641.4" y1="473" x2="641.4" y2="541" stroke="#000" stroke-width="1.2" />
<line x1="722.4" y1="473" x2="722.4" y2="541" stroke="#000" stroke-width="1.8" />
<line x1="638.4" y1="473" x2="648" y2="473" stroke="#000" stroke-width="1.5" />
<line x1="714" y1="473" x2="722.4" y2="473" stroke="#000" stroke-width="1.5" />
<path d="M648,467.5 Q681,460 714,467.5 Q723,500 714,535 Q681,541 648,535 Q639,500 648,467.5 Z" fill="#fff" stroke="#000" stroke-width="3.4" />
<path d="M652,472 Q681,465.5 711,472 Q717.5,500 711,529.5 Q681,535.5 652,529.5 Q644.5,500 652,472 Z" fill="#fff" stroke="#000" stroke-width="3.4" />
<rect x="648" y="467" width="11" height="11" fill="#000"/>
<path d="M651,470 L651,475 L656,475" fill="none" stroke="#777" stroke-width="1" />
<rect x="648.5" y="524" width="11" height="11" fill="#000"/>
<path d="M651.5,527 L651.5,532 L656.5,532" fill="none" stroke="#777" stroke-width="1" />
<rect x="703" y="467" width="11" height="11" fill="#000"/>
<path d="M706,470 L706,475 L711,475" fill="none" stroke="#777" stroke-width="1" />
<rect x="703" y="524" width="11" height="11" fill="#000"/>
<path d="M706,527 L706,532 L711,532" fill="none" stroke="#777" stroke-width="1" />
<rect x="638" y="537.8" width="86" height="3.6" fill="#000"/>
<rect x="722.5" y="504" width="19" height="23.5" fill="#fff"/>
<rect x="722.8" y="507" width="4" height="18" rx="0" fill="#fff" stroke="#000" stroke-width="1.6" />
<rect x="722.8" y="514.5" width="4" height="4.5" fill="#555"/>
<rect x="729" y="506.5" width="8.5" height="19" rx="0" fill="#fff" stroke="#000" stroke-width="2" />
<rect x="729" y="515" width="8.5" height="4" fill="#555"/>
<rect x="737.5" y="505" width="4" height="22" fill="#888"/>
<line x1="655" y1="549" x2="655" y2="568" stroke="#000" stroke-width="1.5" />
<line x1="706.4" y1="549" x2="706.4" y2="568" stroke="#000" stroke-width="1.5" />
<line x1="681.3" y1="341" x2="681.3" y2="878" stroke="#000" stroke-width="2" />
<rect x="679.3" y="506" width="4" height="3" fill="#fff"/>
<rect x="679.3" y="524" width="4" height="3" fill="#fff"/>
<rect x="679.3" y="615.5" width="4" height="2" fill="#fff"/>
<rect x="679.3" y="694.5" width="4" height="2.5" fill="#fff"/>
<rect x="679.3" y="709.5" width="4" height="2" fill="#fff"/>
<circle cx="681.1" cy="596.4" r="8.6" fill="#fff" stroke="#000" stroke-width="2.8"/>
<line x1="669" y1="596.4" x2="693" y2="596.4" stroke="#000" stroke-width="1.3" />
<line x1="681.3" y1="586" x2="681.3" y2="607" stroke="#000" stroke-width="2" />
<polygon points="681.2,592 685,596.4 681.2,600.8 677.4,596.4" fill="#000" stroke="none" stroke-width="1"/>
<rect x="663.4" y="782.8" width="36" height="12.2" fill="#000"/>
<rect x="666" y="788.3" width="31" height="2.7" fill="#fff"/>
<rect x="668" y="830" width="26" height="9.6" fill="#111"/>
<polygon points="653,803.2 668,795.5 694,795.5 709.6,803.2 709.6,821.6 694,829.5 668,829.5 653,821.6" fill="#000" stroke="none" stroke-width="1"/>
<circle cx="681.3" cy="812.4" r="20.5" fill="#000" stroke="none" stroke-width="0"/>
<circle cx="653" cy="812.4" r="9.2" fill="#000" stroke="none" stroke-width="0"/>
<circle cx="653" cy="812.4" r="6.2" fill="#fff" stroke="none" stroke-width="0"/>
<circle cx="653" cy="812.4" r="3.6" fill="#555" stroke="none" stroke-width="0"/>
<circle cx="709.6" cy="812.4" r="9.2" fill="#000" stroke="none" stroke-width="0"/>
<circle cx="709.6" cy="812.4" r="6.2" fill="#fff" stroke="none" stroke-width="0"/>
<circle cx="709.6" cy="812.4" r="3.6" fill="#555" stroke="none" stroke-width="0"/>
<circle cx="681.3" cy="812.4" r="18.4" fill="#fff" stroke="none" stroke-width="0"/>
<circle cx="681.3" cy="812.4" r="14.2" fill="#fff" stroke="#000" stroke-width="6.2"/>
<line x1="640" y1="812.4" x2="722" y2="812.4" stroke="#555" stroke-width="1.2" />
<line x1="681.3" y1="790" x2="681.3" y2="840" stroke="#000" stroke-width="2" />
<rect x="737.6" y="806.6" width="8" height="22.4" rx="0" fill="#fff" stroke="#000" stroke-width="1.8" />
<rect x="745.6" y="810" width="10" height="15.5" rx="0" fill="#fff" stroke="#000" stroke-width="1.8" />
<line x1="750" y1="810" x2="750" y2="825.5" stroke="#000" stroke-width="1" />
<path d="M622.4,837 L738.5,837 L738.5,845 L761.9,845 L761.9,868.7 L600,868.7 L600,845 L622.4,845 Z" fill="#fff" stroke="#000" stroke-width="2.2" />
<line x1="645" y1="845" x2="645" y2="868.7" stroke="#000" stroke-width="2" />
<line x1="716.9" y1="845" x2="716.9" y2="868.7" stroke="#000" stroke-width="2" />
<line x1="600" y1="849" x2="645" y2="849" stroke="#000" stroke-width="1.5" />
<line x1="716.9" y1="849" x2="761.9" y2="849" stroke="#000" stroke-width="1.5" />
<rect x="603" y="866" width="27" height="3.5" fill="#000"/>
<rect x="732" y="866" width="28" height="3.5" fill="#000"/>
<line x1="645" y1="866" x2="717" y2="866" stroke="#333" stroke-width="1.5" />
<line x1="681.3" y1="837" x2="681.3" y2="878.4" stroke="#000" stroke-width="2" />
<rect x="603" y="849.5" width="36" height="16.5" rx="0" fill="none" stroke="#000" stroke-width="1.3" />
<rect x="723" y="849.5" width="36" height="16.5" rx="0" fill="none" stroke="#000" stroke-width="1.3" />
<line x1="699.8" y1="792.2" x2="758.4" y2="731.8" stroke="#000" stroke-width="1.5" />
<line x1="758.4" y1="731.8" x2="805.2" y2="731.8" stroke="#444" stroke-width="2" />
<line x1="718.7" y1="802" x2="759.3" y2="760.7" stroke="#000" stroke-width="1.5" />
<line x1="759.3" y1="760.7" x2="839.4" y2="760.7" stroke="#444" stroke-width="1.5" />
<polygon points="718.7,802 724.27,792.05 728.55,796.26" fill="#000" stroke="none" stroke-width="1"/>
<text x="763.8" y="726" font-size="22" text-anchor="start" >G1¼"</text>
<text x="768.3" y="755.2" font-size="23" text-anchor="start" style="letter-spacing:0.7px">2xM10</text>
<line x1="626" y1="362.4" x2="859" y2="362.4" stroke="#555" stroke-width="2" />
<line x1="762" y1="869" x2="859" y2="869" stroke="#222" stroke-width="1.5" />
<line x1="851" y1="362.4" x2="851" y2="869" stroke="#222" stroke-width="1.5" />
<polygon points="851,362.4 854.5,375.4 847.5,375.4" fill="#000" stroke="none" stroke-width="1"/>
<polygon points="851,869 847.5,856 854.5,856" fill="#000" stroke="none" stroke-width="1"/>
<text x="842.6" y="619.7" font-size="23.5" text-anchor="middle" transform="rotate(-90 842.6 619.7)" >505</text>
<line x1="652" y1="830" x2="652" y2="921.5" stroke="#222" stroke-width="1.5" />
<line x1="709.6" y1="830" x2="709.6" y2="921.5" stroke="#222" stroke-width="1.5" />
<line x1="644" y1="830" x2="644" y2="960.5" stroke="#222" stroke-width="1.5" />
<line x1="718.6" y1="830" x2="718.6" y2="960.5" stroke="#222" stroke-width="1.5" />
<line x1="601" y1="845" x2="601" y2="1000" stroke="#222" stroke-width="1.5" />
<line x1="761.5" y1="845" x2="761.5" y2="1000" stroke="#222" stroke-width="1.5" />
<line x1="652" y1="911.6" x2="709.6" y2="911.6" stroke="#222" stroke-width="1.5" />
<polygon points="652,911.6 665,908.1 665,915.1" fill="#000" stroke="none" stroke-width="1"/>
<polygon points="709.6,911.6 696.6,915.1 696.6,908.1" fill="#000" stroke="none" stroke-width="1"/>
<text x="683" y="906.5" font-size="23" text-anchor="middle" >75</text>
<line x1="644" y1="953" x2="718.6" y2="953" stroke="#222" stroke-width="1.5" />
<polygon points="644,953 657,949.5 657,956.5" fill="#000" stroke="none" stroke-width="1"/>
<polygon points="718.6,953 705.6,956.5 705.6,949.5" fill="#000" stroke="none" stroke-width="1"/>
<text x="684" y="948.5" font-size="23" text-anchor="middle" >99</text>
<line x1="601" y1="990.5" x2="761.5" y2="990.5" stroke="#222" stroke-width="1.5" />
<polygon points="601,990.5 614,987 614,994" fill="#000" stroke="none" stroke-width="1"/>
<polygon points="761.5,990.5 748.5,994 748.5,987" fill="#000" stroke="none" stroke-width="1"/>
<text x="684" y="986" font-size="23.5" text-anchor="middle" >213</text>
</svg></body></html>
